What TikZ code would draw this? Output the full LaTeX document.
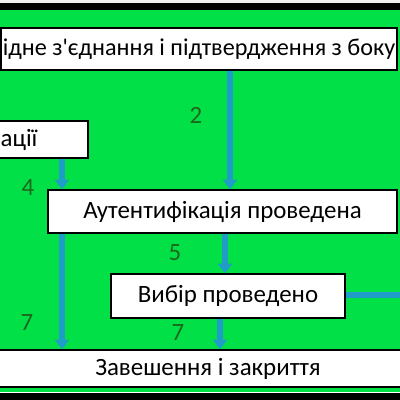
\documentclass[tikz,border=0pt]{standalone}
\usepackage{fontspec}
\setmainfont{Carlito}[Ligatures=TeXOff]
\usetikzlibrary{arrows.meta}
\definecolor{fieldgreen}{RGB}{2,224,72}
\definecolor{flowblue}{RGB}{32,156,200}
\definecolor{stepgreen}{RGB}{28,104,28}
\tikzset{
  stage/.style={draw=black, line width=0.9pt, fill=white, inner sep=0pt, font=\fontsize{17.7}{20}\selectfont},
  flow/.style={draw=flowblue, line width=4pt, -{Triangle[length=7pt,width=10pt]}},
  stepnum/.style={text=stepgreen, font=\fontsize{17.7}{20}\selectfont},
}

\begin{document}
\begin{tikzpicture}[x=0.025cm,y=-0.025cm]
			%%%%% START %%%%%
			\useasboundingbox (0,0) rectangle (400,400);
			\clip (0,0) rectangle (400,400);
			
			\fill[black!6] (0,0) rectangle (400,3);
			\fill[black] (0,3) rectangle (400,10);
			\fill[fieldgreen] (0,10) rectangle (400,392);
			\fill[black] (0,393) rectangle (400,400);
			
			\node[stage, minimum width=9.9cm, minimum height=1.05cm, font=\fontsize{17.2}{19}\selectfont] (handshake) at (199,49) {ідне з'єднання і підтвердження з боку};
			\node[stage, minimum width=3.45cm, minimum height=0.925cm] (authreq) at (19,139.5) {ації};
			\node[stage, minimum width=8.725cm, minimum height=1.075cm] (authdone) at (222.5,211.5) {Аутентифікація проведена};
			\node[stage, minimum width=5.85cm, minimum height=1.1cm] (choice) at (228,296) {Вибір проведено};
			\node[stage, minimum width=11cm, minimum height=0.925cm] (closing) at (208,368.5) {Завешення і закриття};
			
			\coordinate (exit) at (402,295);
			
			\draw[flow] (handshake.south -| 230,0) -- (authdone.north -| 230,0);
			\draw[flow] (authreq.south -| 62,0) -- (authdone.north -| 62,0);
			\draw[flow] (authdone.south -| 225,0) -- (choice.north -| 225,0);
			\draw[flow] (authdone.south -| 62,0) -- (closing.north -| 62,0);
			\draw[flow] (choice.south -| 220,0) -- (closing.north -| 220,0);
			\draw[flow, -] (choice.east |- exit) -- (exit);
			
			\node[stepnum] at (196,115) {2};
			\node[stepnum] at (28,188) {4};
			\node[stepnum] at (175,253) {5};
			\node[stepnum] at (27,323) {7};
			\node[stepnum] at (178,333) {7};
			
			%%%%% END %%%%%
\end{tikzpicture}
\end{document}
